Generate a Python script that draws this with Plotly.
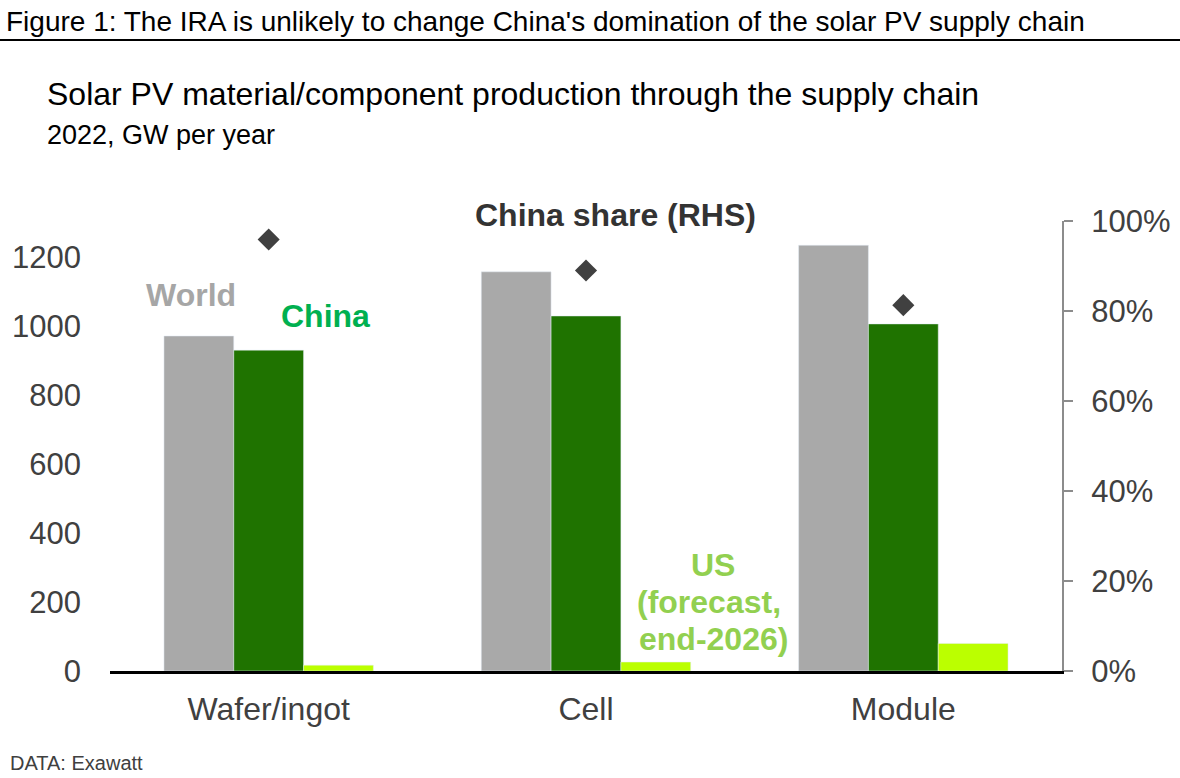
import plotly.graph_objects as go

# Data
stages = ["Wafer/ingot", "Cell", "Module"]
world_gw = [971, 1157, 1234]
china_gw = [930, 1029, 1006]
us_gw = [17, 26, 80]
china_share = [0.959, 0.890, 0.813]
left_ticks = [0, 200, 400, 600, 800, 1000, 1200]
right_ticks = [0, 0.2, 0.4, 0.6, 0.8, 1.0]

W, H = 1180, 778
L, R, T, B = 110, 118, 221, 107
FONT = "Arial, Liberation Sans, sans-serif"


# helpers to turn page pixels into paper coords for the text bits
def px(x):
    return (x - L) / (W - L - R)


def py(y):
    return (H - B - y) / (H - T - B)


fig = go.Figure()
fig.add_trace(go.Bar(x=stages, y=world_gw, name="World", marker_color="#a9a9a9"))
fig.add_trace(go.Bar(x=stages, y=china_gw, name="China", marker_color="#1f7300"))
fig.add_trace(go.Bar(x=stages, y=us_gw, name="US", marker_color="#bbff00"))
fig.add_trace(go.Scatter(
    x=stages, y=china_share, yaxis="y2", mode="markers", name="China share",
    marker=dict(symbol="diamond", size=17, color="#404040"),
))

notes = [
    dict(text="Figure 1: The IRA is unlikely to change China's domination of the solar PV supply chain",
         x=px(4), y=py(22), xanchor="left", size=28, color="#000000", bold=False),
    dict(text="Solar PV material/component production through the supply chain",
         x=px(45), y=py(94), xanchor="left", size=32, color="#000000", bold=False),
    dict(text="2022, GW per year", x=px(45), y=py(135), xanchor="left", size=27,
         color="#000000", bold=False),
    dict(text="China share (RHS)", x=px(615), y=py(215), xanchor="center", size=32,
         color="#333333", bold=True),
    dict(text="World", x=px(191), y=py(295), xanchor="center", size=32,
         color="#a6a6a6", bold=True),
    dict(text="China", x=px(325), y=py(316), xanchor="center", size=32,
         color="#00b050", bold=True),
    dict(text="US", x=px(713), y=py(565), xanchor="center", size=32,
         color="#92d050", bold=True),
    dict(text="(forecast,", x=px(709), y=py(602), xanchor="center", size=32,
         color="#92d050", bold=True),
    dict(text="end-2026)", x=px(713), y=py(639), xanchor="center", size=32,
         color="#92d050", bold=True),
    dict(text="DATA: Exawatt", x=px(8), y=py(763), xanchor="left", size=20,
         color="#404040", bold=False),
]
for n in notes:
    txt = f"<b>{n['text']}</b>" if n["bold"] else n["text"]
    fig.add_annotation(text=txt, x=n["x"], y=n["y"], xref="paper", yref="paper",
                       xanchor=n["xanchor"], yanchor="middle", showarrow=False,
                       align="center", font=dict(family=FONT, size=n["size"], color=n["color"]))

# rule under the figure header
fig.add_shape(type="line", xref="paper", yref="paper", x0=px(0), x1=px(W),
              y0=py(40), y1=py(40), line=dict(color="#000000", width=2))

fig.update_layout(
    width=W, height=H,
    margin=dict(l=L, r=R, t=T, b=B),
    plot_bgcolor="white", paper_bgcolor="white",
    barmode="group", bargap=0.34, bargroupgap=0,
    showlegend=False,
    font=dict(family=FONT, color="#404040"),
    xaxis=dict(
        automargin=False,
        showline=True, linecolor="#000000", linewidth=2.5, showgrid=False,
        ticks="", tickfont=dict(size=32, color="#404040"), ticklabelstandoff=8,
    ),
    yaxis=dict(
        automargin=False,
        range=[0, 1304.3], tickvals=left_ticks, showgrid=False, zeroline=False,
        showline=False, ticks="", tickfont=dict(size=31, color="#404040"),
        ticklabelstandoff=28,
    ),
    yaxis2=dict(
        automargin=False,
        overlaying="y", side="right", range=[0, 1], tickvals=right_ticks,
        tickformat=".0%", showgrid=False, zeroline=False,
        showline=True, linecolor="#8c8c8c", linewidth=2,
        ticks="outside", ticklen=9, tickwidth=2, tickcolor="#8c8c8c",
        tickfont=dict(size=31, color="#404040"), ticklabelstandoff=12,
    ),
)

# page has a default body margin; drop it so the figure sits at the corner
fig.write_html("out.html", config={"displayModeBar": False},
               post_script="document.body.style.margin='0px';")
